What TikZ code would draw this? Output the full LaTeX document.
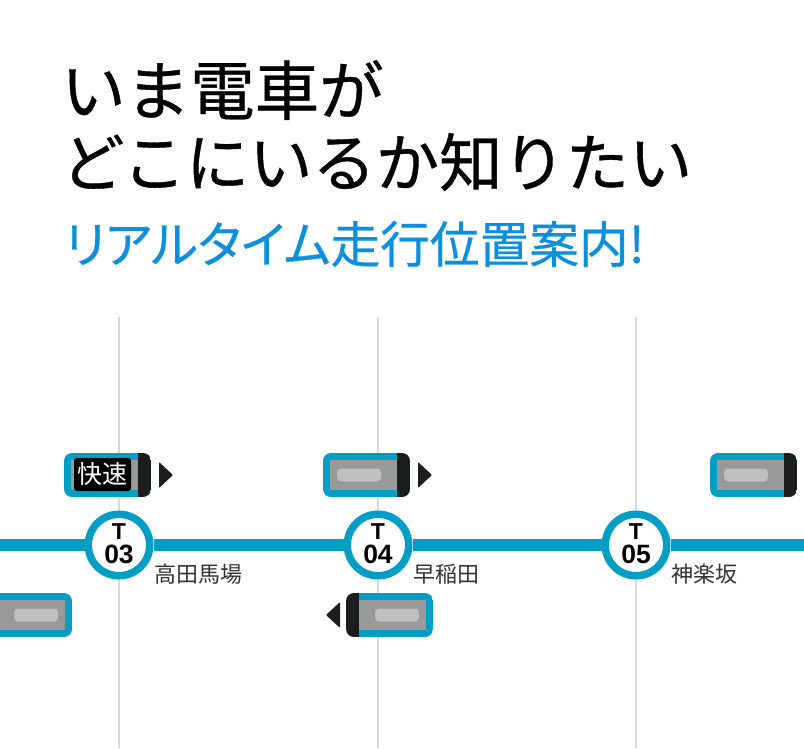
\documentclass[tikz,border=0pt]{standalone}
\usepackage{fontspec}
\newfontfamily\cjk{Noto Sans CJK JP}
\newfontfamily\cjkmed[FakeBold=0.6]{Noto Sans CJK JP}
\newfontfamily\cjkprop[FakeBold=0.5,RawFeature=+palt]{Noto Sans CJK JP}
\newfontfamily\numfont{Liberation Sans}
\usepackage{tikz}
\definecolor{linecol}{HTML}{009DC4}
\definecolor{titlecol}{HTML}{0D8FDC}
\definecolor{capcol}{HTML}{1C1E1E}
\tikzset{
  station/.style={circle,draw=linecol,line width=7.5pt,fill=white,minimum size=61.5pt,inner sep=0pt},
  stationno/.style={font=\numfont\bfseries\fontsize{26.5}{24}\selectfont,align=center,text=black},
  stationname/.style={font=\cjk\fontsize{22}{22}\selectfont,anchor=west,text=black!80,inner sep=0pt},
  title/.style={font=\cjkmed\fontsize{63.3}{70}\selectfont,anchor=west,inner sep=0pt,text=black},
  pole/.style={color=black!15,line width=2.2pt},
  track/.style={color=linecol,line width=12.5pt},
  badge/.style={fill=black,text=white,rounded corners=3pt,minimum width=57pt,minimum height=33pt,inner sep=0pt,font=\cjk\fontsize{25}{25}\selectfont},
  train/.pic={
    % body runs from 0 to 87, cap on the front end
    \begin{scope}
      \clip[rounded corners=8pt] (0,-22) rectangle (87,22);
      \fill[linecol] (0,-22) rectangle (74,22);
      \fill[capcol] (74,-22) rectangle (87,22);
    \end{scope}
    \fill[black!40] (7,-15) rectangle (74,15);
    \fill[black!25,rounded corners=4pt] (14,-6.5) rectangle (58,6.5);
  },
  heading/.pic={
    \fill[capcol,rounded corners=1pt] (0,-13) -- (14,0) -- (0,13) -- cycle;
  }
}
\begin{document}
\begin{tikzpicture}[x=1pt,y=-1pt,line cap=butt]
  \useasboundingbox (0,0) rectangle (804,748);
  \clip (0,0) rectangle (804,748);
  \fill[white] (0,0) rectangle (804,748);
  % title
  \node[title,font=\cjkmed\fontsize{64.5}{70}\selectfont] (line1) at (61,90) {いま電車が};
  \node[title] (line2) at (61,162) {どこにいるか知りたい};
  \node[title,text=titlecol,font=\cjkprop\fontsize{49.7}{50}\selectfont] (line3) at (64.5,244) {リアルタイム走行位置案内!};
  % poles and stations
  \foreach \x/\n in {119/03,378/04,636/05} {
    \coordinate (top\n) at (\x,317);
    \coordinate (bot\n) at (\x,748);
    \draw[pole] (top\n) -- (bot\n);
    \node[station] (t\n) at (\x,545) {};
    \node[stationno] (no\n) at (\x,544) {{\fontsize{23}{24}\selectfont T}\\\n};
  }
  \coordinate (trackl) at (0,545);
  \coordinate (trackr) at (804,545);
  \draw[track] (trackl) -- (t03);
  \draw[track] (t03) -- (t04);
  \draw[track] (t04) -- (t05);
  \draw[track] (t05) -- (trackr);
  \node[stationname] (name03) at (154,574) {高田馬場};
  \node[stationname] (name04) at (413,574) {早稲田};
  \node[stationname] (name05) at (671,574) {神楽坂};
  % trains
  \foreach \x in {64,323,710}
  \draw (\x,475) pic {train};
  \foreach \x in {159,418}
  \draw (\x,475) pic {heading};
  \draw (433,615) pic[xscale=-1] {train};
  \draw (340,615) pic[xscale=-1] {heading};
  \draw (72,615) pic[xscale=-1] {train};
  \node[badge] (rapid) at (102.5,474.5) {快速};
\end{tikzpicture}
\end{document}
